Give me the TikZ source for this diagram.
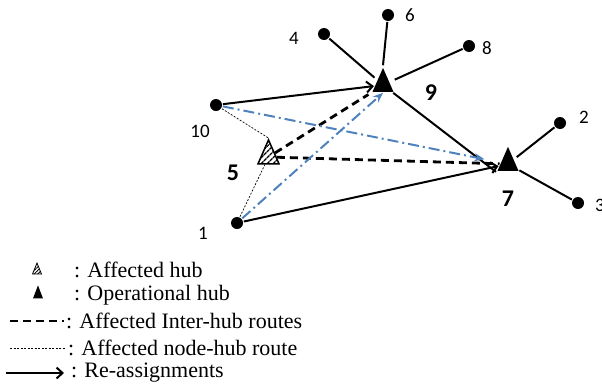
\documentclass[tikz,border=0pt]{standalone}
\usepackage{fontspec}
\setmainfont{Liberation Serif}
\newfontfamily\numfont{Carlito}
\usetikzlibrary{arrows.meta,shapes.geometric,patterns.meta}
\definecolor{routeblue}{RGB}{79,129,189}

\begin{document}
\begin{tikzpicture}[x=1pt,y=-1pt,>={Straight Barb[length=6pt,width=11pt]},line width=2pt,
                    customer/.style={circle,fill,inner sep=0pt,minimum size=12pt},
                    hub/.style={isosceles triangle,isosceles triangle stretches,
                                shape border rotate=90,fill,inner sep=0pt,
                                minimum width=21pt,minimum height=24pt},
                    affected/.style={hub,fill=none,draw,line width=1.5pt,
                                     pattern={Lines[angle=45,distance=4pt,line width=1.4pt]}},
                    num/.style={font=\numfont\fontsize{19}{19}\selectfont},
                    hubnum/.style={font=\numfont\bfseries\fontsize{24}{24}\selectfont},
                    interhub/.style={dash pattern=on 8pt off 5pt,line width=2.8pt},
                    nodehub/.style={dash pattern=on 2pt off 1.5pt,line width=0.7pt},
                    reassign/.style={->,line width=2pt},
                    newroute/.style={-{Stealth[length=10pt,width=8pt]},routeblue,line width=2pt,
                                     dash pattern=on 11pt off 4pt on 2pt off 4pt},
                    legend/.style={anchor=west,inner sep=0pt,
                                   font=\fontsize{22}{26}\selectfont}]

  \useasboundingbox (0,0) rectangle (602,386);

  % hubs
  \node[hub]      (H9) at (383,85)    {};
  \node[hub]      (H7) at (508,164)   {};
  \node[affected] (H5) at (268.5,157) {};

  % customers
  \node[customer] (C6)  at (388,15)  {};
  \node[customer] (C4)  at (324,34)  {};
  \node[customer] (C8)  at (469,46)  {};
  \node[customer] (C10) at (216,105) {};
  \node[customer] (C1)  at (237,223) {};
  \node[customer] (C2)  at (560,123) {};
  \node[customer] (C3)  at (578,203) {};

  % labels
  \node[num] (L6)  at (410,15)  {6};
  \node[num] (L4)  at (294,38)  {4};
  \node[num] (L8)  at (487,48)  {8};
  \node[num] (L10) at (200,131) {10};
  \node[num] (L1)  at (203,233) {1};
  \node[num] (L2)  at (584,117) {2};
  \node[num] (L3)  at (600,205) {3};
  \node[hubnum] (L9) at (431,93)  {9};
  \node[hubnum] (L5) at (233,173) {5};
  \node[hubnum] (L7) at (508,199) {7};

  % allocations
  \draw (C6) -- (H9.apex);
  \draw[shorten >=3pt] (C4) -- (H9);
  \draw[shorten >=5pt] (C8) -- (H9);
  \draw[shorten <=3pt] (H7) -- (C2);
  \draw (H7) -- (C3);
  \draw (H9) -- (H7.left corner);

  % affected routes
  \draw[interhub,shorten >=3pt] (H5) -- (H9.left corner);
  \draw[interhub] (H5) -- (H7);
  \draw[nodehub] (C10) -- (H5.apex);
  \draw[nodehub] (C1) -- (H5);

  % re-assignments
  \path (C10) edge[reassign]                  (H9)
        (C1)  edge[reassign]                  (H7)
        (C10) edge[newroute,shorten >=16pt]   (H7)
        (C1)  edge[newroute]                  (H9.lower side)
        ;

  % legend
  \node[affected,minimum width=9pt,minimum height=11pt,line width=0.8pt,
        pattern={Lines[angle=45,distance=2.5pt,line width=0.8pt]}]
        (K1) at (37,271) {};
  \node[hub,minimum width=10pt,minimum height=13pt] (K2) at (38,295) {};
  \coordinate (K3a) at (10,321);  \coordinate (K3b) at (64,321);
  \coordinate (K4a) at (10,348);  \coordinate (K4b) at (66,348);
  \coordinate (K5a) at (6,373);   \coordinate (K5b) at (64,373);
  \draw[interhub] (K3a) -- (K3b);
  \draw[nodehub]  (K4a) -- (K4b);
  \draw[reassign] (K5a) -- (K5b);

  \node[legend] (T1) at (73,270) {: Affected hub};
  \node[legend] (T2) at (73,295) {: Operational hub};
  \node[legend] (T3) at (65,321) {: Affected Inter-hub routes};
  \node[legend] (T4) at (67,348) {: Affected node-hub route};
  \node[legend] (T5) at (70,373) {: Re-assignments};

\end{tikzpicture}
\end{document}
